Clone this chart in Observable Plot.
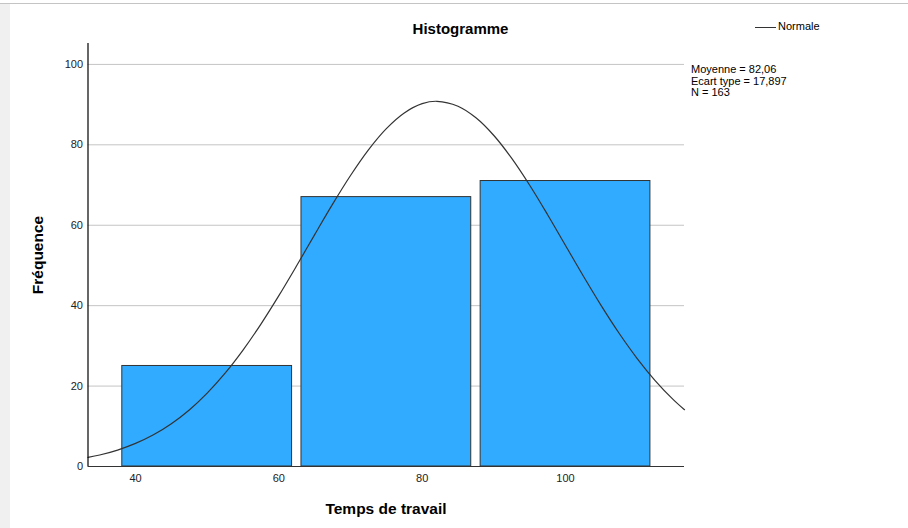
<!DOCTYPE html>
<html>
<head>
<meta charset="utf-8">
<script src="https://cdn.jsdelivr.net/npm/d3@7"></script>
<script src="https://cdn.jsdelivr.net/npm/@observablehq/plot@0.6"></script>
<style>
  html, body { margin: 0; padding: 0; background: #fff; }
  #wrap { position: relative; width: 908px; height: 528px; overflow: hidden; font-family: "Liberation Sans", Arial, sans-serif; }
  #topline { position: absolute; left: 0; top: 3px; width: 908px; height: 1px; background: #c4c4c4; }
  #strip { position: absolute; left: 0; top: 4px; width: 10px; height: 524px; background: #f0f0f0; }
  #chart { position: absolute; left: 0; top: 0; }
  .t { position: absolute; white-space: nowrap; color: #000; }
  #title { left: 0; width: 921px; top: 20px; text-align: center; font-weight: bold; font-size: 15px; }
  #xlabel { left: 0; width: 772px; top: 500px; text-align: center; font-weight: bold; font-size: 15.5px; }
  #ylabel { left: 38px; top: 255px; font-weight: bold; font-size: 15.5px; transform: translate(-50%, -50%) rotate(-90deg); }
  #legline { position: absolute; left: 755px; top: 27px; width: 21px; height: 1px; background: #333; }
  #legtext { left: 778px; top: 20px; font-size: 11px; }
  #stats { left: 691px; top: 64px; font-size: 11px; line-height: 11.5px; }
</style>
</head>
<body>
<div id="wrap">
  <div id="topline"></div>
  <div id="strip"></div>
  <div id="chart"></div>
  <div class="t" id="title">Histogramme</div>
  <div class="t" id="ylabel">Fréquence</div>
  <div class="t" id="xlabel">Temps de travail</div>
  <div id="legline"></div>
  <div class="t" id="legtext">Normale</div>
  <div class="t" id="stats"></div>
</div>
<script>
// Histogram bins (Temps de travail) and frequencies
const binStart = [37.5, 62.5, 87.5];
const binEnd = [62.5, 87.5, 112.5];
const counts = [25, 67, 71];

// Normal curve points
const curveX = [33.37, 35, 37.5, 40, 42.5, 45, 47.5, 50, 52.5, 55, 57.5, 60, 62.5, 65, 67.5, 70, 72.5, 75, 77.5, 80, 82.06, 85, 87.5, 90, 92.5, 95, 97.5, 100, 102.5, 105, 107.5, 110, 112.5, 115, 116.6];
const curveY = [2.26, 2.86, 4.09, 5.74, 7.89, 10.65, 14.07, 18.26, 23.22, 28.96, 35.42, 42.49, 49.98, 57.67, 65.24, 72.37, 78.75, 84.03, 87.93, 90.23, 90.83, 89.61, 86.73, 82.32, 76.62, 69.94, 62.61, 54.96, 47.31, 39.95, 33.07, 26.85, 21.38, 16.70, 14.12];

// Tick labels
const xTicks = [40, 60, 80, 100];
const yTicks = [0, 20, 40, 60, 80, 100];
const gridY = [20, 40, 60, 80, 100];

// Statistics
const statLines = ["Moyenne = 82,06", "Ecart type = 17,897", "N = 163"];
document.getElementById("stats").innerHTML = statLines.join("<br>");

const bars = binStart.map((s, i) => ({x1: s, x2: binEnd[i], count: counts[i]}));
const curve = curveX.map((x, i) => ({x, y: curveY[i]}));

const chart = Plot.plot({
  width: 908,
  height: 528,
  marginLeft: 87.5,
  marginRight: 224,
  marginTop: 43,
  marginBottom: 62,
  style: { fontFamily: "Liberation Sans, Arial, sans-serif", fontSize: "11px", background: "transparent", color: "#222" },
  x: { domain: [33.37, 116.6], ticks: xTicks, tickSize: 0, tickPadding: 8, label: null },
  y: { domain: [0, 105.2], ticks: yTicks, tickSize: 0, tickPadding: 5, label: null },
  marks: [
    Plot.ruleY(gridY, { stroke: "#c4c4c4", strokeWidth: 1 }),
    Plot.rectY(bars, { x1: "x1", x2: "x2", y: "count", insetLeft: 4.7, insetRight: 4.7, fill: "#31abff", stroke: "#333", strokeWidth: 1 }),
    Plot.line(curve, { x: "x", y: "y", curve: "catmull-rom", stroke: "#333", strokeWidth: 1.2 }),
    Plot.ruleY([0], { stroke: "#333", strokeWidth: 1.2 }),
    Plot.ruleX([33.37], { stroke: "#000", strokeWidth: 1.2 })
  ]
});
document.getElementById("chart").appendChild(chart);
</script>
</body>
</html>
